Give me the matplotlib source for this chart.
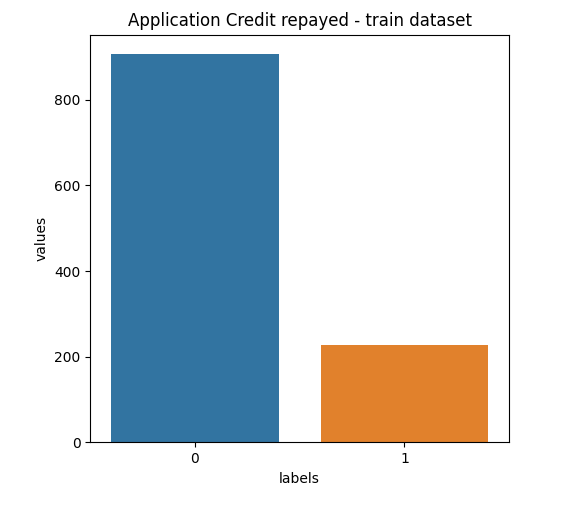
import matplotlib
matplotlib.use("Agg")
import matplotlib.pyplot as plt

labels = ["0", "1"]
values = [907, 227]
colors = ["#3274a1", "#e1812c"]

fig = plt.figure(figsize=(5.74, 5.07), dpi=100)
ax = fig.add_axes([0.157, 0.1276, 0.73, 0.804])
ax.bar(range(len(labels)), values, width=0.8, color=colors)
ax.set_xticks(range(len(labels)))
ax.set_xticklabels(labels)
ax.set_xlim(-0.5, 1.5)
ax.set_ylim(0, max(values) * 1.05)
ax.set_yticks([0, 200, 400, 600, 800])
ax.set_xlabel("labels")
ax.set_ylabel("values")
ax.set_title("Application Credit repayed - train dataset")
fig.savefig("out.png", dpi=100)
